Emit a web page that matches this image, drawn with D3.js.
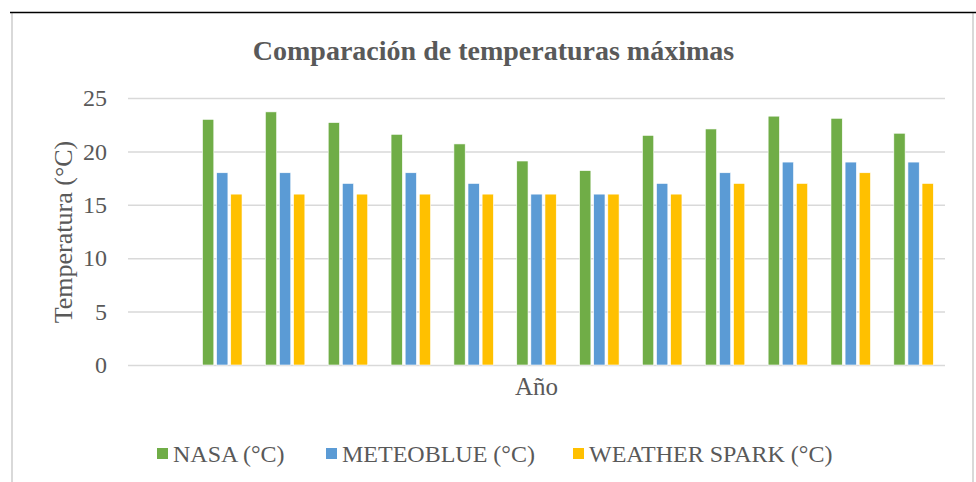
<!DOCTYPE html>
<html>
<head>
<meta charset="utf-8">
<script src="https://cdn.jsdelivr.net/npm/d3@7"></script>
<style>
  html, body { margin: 0; padding: 0; background: #fff; }
  svg { display: block; }
  text { font-family: "Liberation Serif", "Times New Roman", serif; fill: #595959; }
</style>
</head>
<body>
<svg id="chart" width="976" height="482"></svg>
<script>
// Categories along the x axis (first slot is an empty header row)
const categories = ["", "1", "2", "3", "4", "5", "6", "7", "8", "9", "10", "11", "12"];
const seriesNames = ["NASA (°C)", "METEOBLUE (°C)", "WEATHER SPARK (°C)"];
const nasa        = [null, 23.0, 23.7, 22.7, 21.6, 20.7, 19.1, 18.2, 21.5, 22.1, 23.3, 23.1, 21.7];
const meteoblue   = [null, 18, 18, 17, 18, 17, 16, 16, 17, 18, 19, 19, 19];
const weatherSpark= [null, 16, 16, 16, 16, 16, 16, 16, 16, 17, 17, 18, 17];
const yTicks = [0, 5, 10, 15, 20, 25];
const colors = ["#70AD47", "#5B9BD5", "#FFC000"];

const serif = "'Liberation Serif', 'Times New Roman', serif";
const seriesValues = [nasa, meteoblue, weatherSpark];
const rows = categories.map((c, i) => ({
  cat: c,
  values: seriesNames.map((s, k) => ({ key: s, k, value: seriesValues[k][i] }))
}));

const svg = d3.select("#chart");

// Chart frame
svg.append("line").attr("x1", 12).attr("x2", 12).attr("y1", 13).attr("y2", 482)
  .attr("stroke", "#d9d9d9").attr("stroke-width", 2);
svg.append("line").attr("x1", 973).attr("x2", 973).attr("y1", 13).attr("y2", 482)
  .attr("stroke", "#d9d9d9").attr("stroke-width", 2);
svg.append("line").attr("x1", 10).attr("x2", 976).attr("y1", 12.5).attr("y2", 12.5)
  .attr("stroke", "#000").attr("stroke-width", 1.5);

const plot = { left: 128, right: 945, top: 98, bottom: 365 };

const x0 = d3.scaleBand().domain(categories.map((c, i) => i))
  .range([plot.left, plot.right]).paddingInner(0).paddingOuter(0);
const groupW = 39.5;
const x1 = d3.scaleBand().domain([0, 1, 2])
  .range([(x0.bandwidth() - groupW) / 2, (x0.bandwidth() + groupW) / 2]).paddingInner(0.2);
const y = d3.scaleLinear().domain([0, 25]).range([plot.bottom, plot.top]);

// Gridlines and y-axis labels
const yAxis = d3.axisLeft(y).tickValues(yTicks).tickSize(-(plot.right - plot.left)).tickPadding(21);
const gy = svg.append("g").attr("transform", `translate(${plot.left},0)`).call(yAxis);
gy.select(".domain").remove();
gy.selectAll(".tick line").attr("stroke", "#d9d9d9").attr("stroke-width", 1.5);
gy.selectAll(".tick text")
  .style("font-family", serif)
  .style("font-size", "24px").attr("fill", "#595959");

// Bars
const groups = svg.append("g").selectAll("g").data(rows).join("g")
  .attr("transform", (d, i) => `translate(${x0(i)},0)`);
groups.selectAll("rect").data(d => d.values.filter(v => v.value != null)).join("rect")
  .attr("x", d => x1(d.k))
  .attr("width", x1.bandwidth())
  .attr("y", d => y(d.value))
  .attr("height", d => y(0) - y(d.value))
  .attr("fill", d => colors[d.k])
  .attr("stroke", "#fff").attr("stroke-width", 0.6);

// Title
svg.append("text").attr("x", 493.5).attr("y", 60).attr("text-anchor", "middle")
  .style("font-family", serif).style("font-size", "28px").style("font-weight", "bold")
  .text("Comparación de temperaturas máximas");

// Axis titles
svg.append("text").attr("transform", "translate(72,232) rotate(-90)")
  .attr("text-anchor", "middle").style("font-family", serif).style("font-size", "26px")
  .text("Temperatura (°C)");
svg.append("text").attr("x", (plot.left + plot.right) / 2).attr("y", 395)
  .attr("text-anchor", "middle").style("font-family", serif).style("font-size", "25px").text("Año");

// Legend
const legendX = [157, 326, 573];
const lg = svg.append("g").selectAll("g").data(seriesNames).join("g")
  .attr("transform", (d, i) => `translate(${legendX[i]},448)`);
lg.append("rect").attr("width", 11).attr("height", 11).attr("fill", (d, i) => colors[i]);
lg.append("text").attr("x", 16).attr("y", 14).style("font-family", serif)
  .style("font-size", "24px").text(d => d);
</script>
</body>
</html>
